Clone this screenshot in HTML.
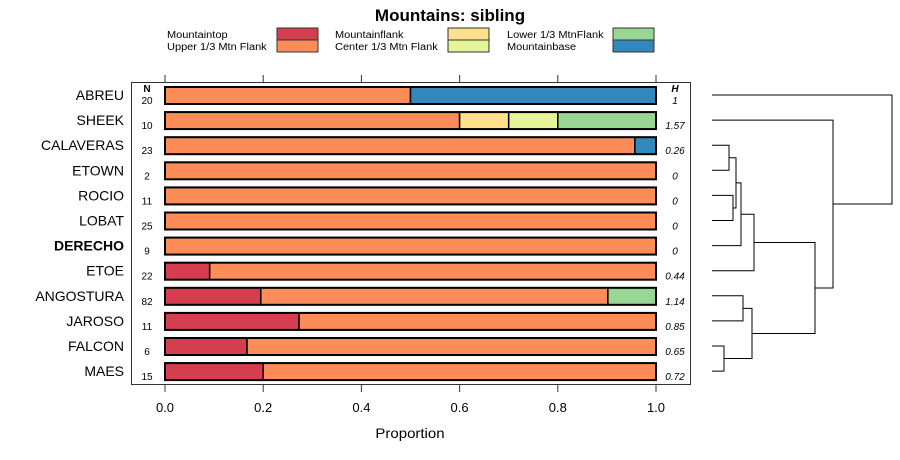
<!DOCTYPE html>
<html><head><meta charset="utf-8"><style>
body{margin:0;background:#fff}
svg{font-family:"Liberation Sans",sans-serif;display:block}
</style></head><body>
<svg id="c" width="900" height="460"></svg>
<script>
const names=["ABREU","SHEEK","CALAVERAS","ETOWN","ROCIO","LOBAT","DERECHO","ETOE","ANGOSTURA","JAROSO","FALCON","MAES"];
const nVals=[20,10,23,2,11,25,9,22,82,11,6,15];
const hVals=["1","1.57","0.26","0","0","0","0","0.44","1.14","0.85","0.65","0.72"];
const catNames=["Mountaintop","Upper 1/3 Mtn Flank","Mountainflank","Center 1/3 Mtn Flank","Lower 1/3 MtnFlank","Mountainbase"];
const colors=["#d53e4f","#fc8d59","#fee08b","#e6f598","#99d594","#3288bd"];
const sTop=[0,0,0,0,0,0,0,0.091,0.195,0.273,0.167,0.2];
const sUpper=[0.5,0.6,0.957,1,1,1,1,0.909,0.707,0.727,0.833,0.8];
const sFlank=[0,0.1,0,0,0,0,0,0,0,0,0,0];
const sCenter=[0,0.1,0,0,0,0,0,0,0,0,0,0];
const sLower=[0,0.2,0,0,0,0,0,0,0.098,0,0,0];
const sBase=[0.5,0,0.043,0,0,0,0,0,0,0,0,0];
const xTicks=[0,0.2,0.4,0.6,0.8,1.0];
const merges=[[2,3,729],[4,5,733],["m0","m1",736],["m2",6,741],["m3",7,754],[8,9,743],[10,11,724],["m5","m6",752],["m4","m7",815],[1,"m8",833],[0,"m9",892]];

const svg=document.getElementById('c');const NS="http://www.w3.org/2000/svg";
function el(t,a,txt){const e=document.createElementNS(NS,t);for(const k in a)e.setAttribute(k,a[k]);if(txt!==undefined)e.textContent=txt;svg.appendChild(e);return e;}
function squeeze(e,f){const w=e.getComputedTextLength();e.setAttribute('textLength',(w*f).toFixed(1));e.setAttribute('lengthAdjust','spacingAndGlyphs');}
const x0=165,x1=656;const X=v=>x0+v*(x1-x0);
const Y=i=>95+i*25.1;
let e;
e=el('text',{x:450,y:21,'text-anchor':'middle','font-size':17,'font-weight':'bold'},'Mountains: sibling');


const lx=[167,335,507],sx=[277,448,613];
catNames.forEach((n,k)=>{const c=Math.floor(k/2),r=k%2;
 e=el('text',{x:lx[c],y:38+r*12,'font-size':10},n);
 
 
 squeeze(e,1.1);
 e=el('rect',{x:sx[c],y:28+r*12,width:41,height:12,fill:colors[k],stroke:'#333','stroke-width':1});
 
 
});
e=el('rect',{x:131.5,y:82.5,width:559,height:302,fill:'none',stroke:'#333'});


xTicks.forEach(t=>{
 e=el('line',{x1:X(t),x2:X(t),y1:75,y2:82,stroke:'#333'});
 
 
 e=el('line',{x1:X(t),x2:X(t),y1:385,y2:392,stroke:'#333'});
 
 
 e=el('text',{x:X(t),y:412,'text-anchor':'middle','font-size':13},t.toFixed(1));
 
 
});
e=el('text',{x:410,y:438,'text-anchor':'middle','font-size':14},'Proportion');


squeeze(e,1.07);
e=el('text',{x:147,y:92,'text-anchor':'middle','font-size':10,'font-weight':'bold'},'N');


e=el('text',{x:675,y:92,'text-anchor':'middle','font-size':10,'font-weight':'bold','font-style':'italic'},'H');


const series=[sTop,sUpper,sFlank,sCenter,sLower,sBase];
names.forEach((n,i)=>{const y=Y(i);
 e=el('text',{x:124,y:y+5,'text-anchor':'end','font-size':14,'font-weight':n==='DERECHO'?'bold':'normal'},n);
 
 
 e=el('text',{x:147,y:y+9,'text-anchor':'middle','font-size':10},nVals[i]);
 
 
 e=el('text',{x:675,y:y+9,'text-anchor':'middle','font-size':10,'font-style':'italic'},hVals[i]);
 
 
 let acc=0;
 series.forEach((s,k)=>{if(s[i]>0){
  e=el('rect',{x:X(acc),y:y-8,width:X(acc+s[i])-X(acc),height:17,fill:colors[k],stroke:'#000','stroke-width':1.5});
  
  
  acc+=s[i];}});
 e=el('rect',{x:x0,y:y-8,width:x1-x0,height:17,fill:'none',stroke:'#000','stroke-width':2});
 
 
});
const leafX=712;const pos={};
function get(c){return typeof c==='number'?{x:leafX,y:Y(c)}:pos[c];}
merges.forEach((m,k)=>{const a=get(m[0]),b=get(m[1]),h=m[2];
 e=el('path',{d:`M${a.x},${a.y}H${h}V${b.y}H${b.x}`,fill:'none',stroke:'#000','stroke-width':1});
 
 
 pos['m'+k]={x:h,y:(a.y+b.y)/2};
});
</script>
</body></html>
